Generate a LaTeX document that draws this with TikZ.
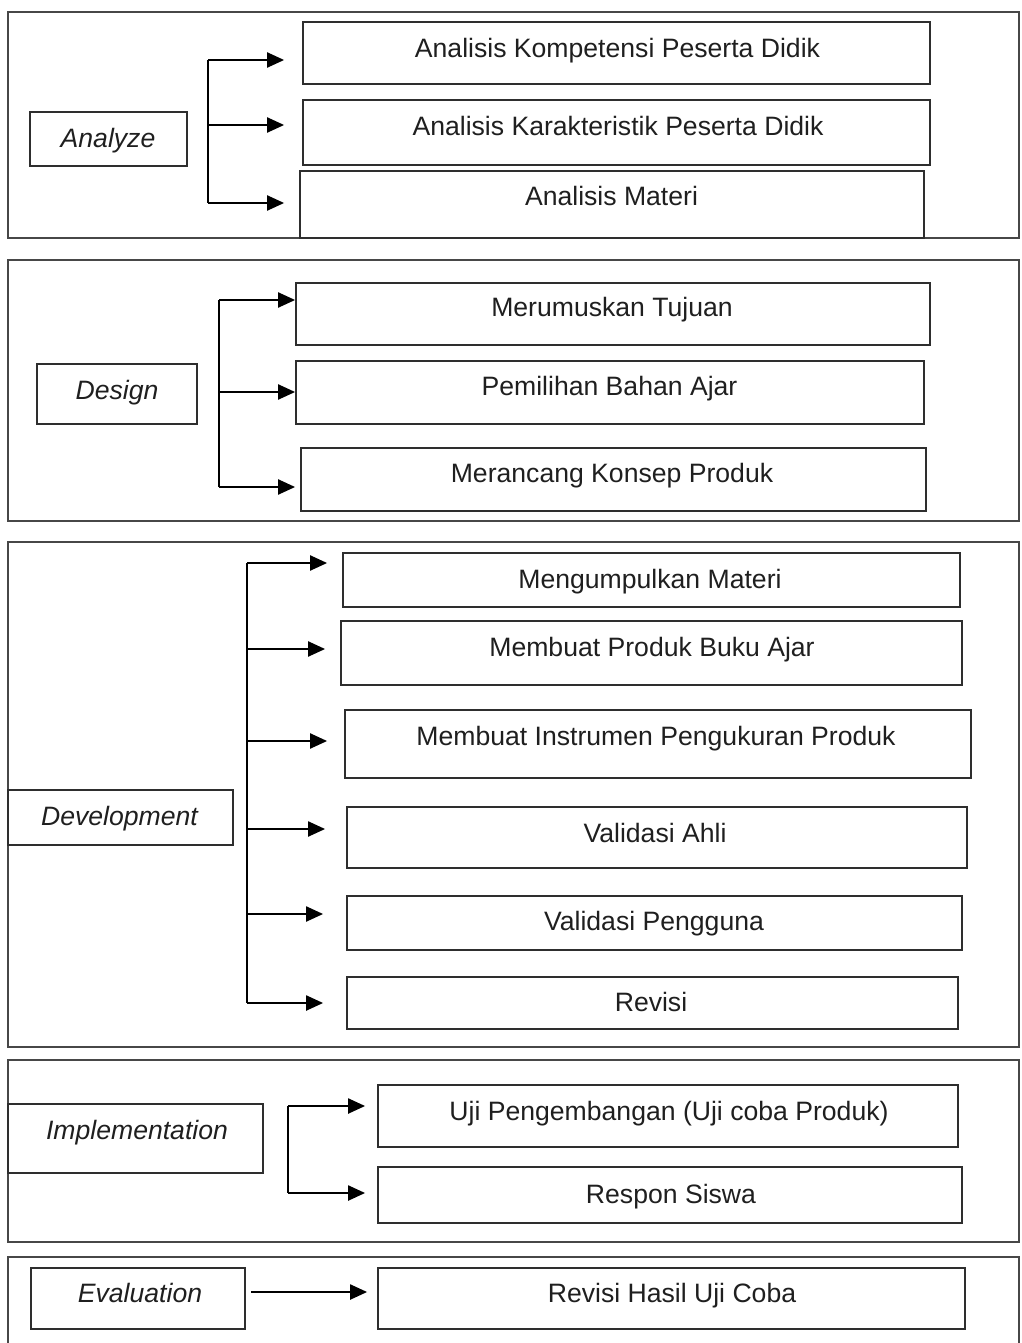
\documentclass[tikz,border=0pt]{standalone}
\usepackage{fontspec}
\setmainfont{Liberation Sans}
\usetikzlibrary{arrows.meta}
\tikzset{
  panel/.style={draw=black!72, line width=1.8pt},
  box/.style={draw=black!82, line width=1.8pt, rectangle, inner sep=0pt},
  txt/.style={inner sep=0pt, text height=19pt, text depth=0pt, text=black!88,
              font=\fontsize{26.6}{31}\selectfont},
  lbl/.style={txt, font=\fontsize{26.6}{31}\selectfont\itshape},
  trunk/.style={draw=black, line width=2.2pt},
  arr/.style={draw=black, line width=2.2pt, -{Triangle[length=17pt,width=15pt]}},
}
\begin{document}
\begin{tikzpicture}[x=1pt,y=-1pt]
\useasboundingbox (0,0) rectangle (1021,1343);
% panels
\draw[panel] (8,12) rectangle (1019,238);
\draw[panel] (8,260) rectangle (1019,521);
\draw[panel] (8,542) rectangle (1019,1047);
\draw[panel] (8,1060) rectangle (1019,1242);
\draw[panel] (8,1346) -- (8,1257) -- (1019,1257) -- (1019,1346);

% ---------- Analyze ----------
\node[box, minimum width=157pt, minimum height=54pt] (an) at (108.5,139) {};
\node[lbl] at (108,138) {Analyze};
\node[box, minimum width=627pt, minimum height=62pt] (a1) at (616.5,53) {};
\node[txt] at (617.5,48) {Analisis Kompetensi Peserta Didik};
\node[box, minimum width=627pt, minimum height=65pt] (a2) at (616.5,132.5) {};
\node[txt] at (618,126) {Analisis Karakteristik Peserta Didik};
\node[box, minimum width=624pt, minimum height=67pt] (a3) at (612,204.5) {};
\node[txt] at (611.5,196) {Analisis Materi};
\coordinate (ta1) at (208,60);
\coordinate (ta2) at (208,125);
\coordinate (ta3) at (208,203);
\draw[trunk] (ta1) -- (ta3);
\draw[arr, shorten >=18pt] (ta1) -- (ta1 -| a1.west);
\draw[arr, shorten >=18pt] (ta2) -- (ta2 -| a2.west);
\draw[arr, shorten >=15pt] (ta3) -- (ta3 -| a3.west);

% ---------- Design ----------
\node[box, minimum width=160pt, minimum height=60pt] (de) at (117,394) {};
\node[lbl] at (117,390) {Design};
\node[box, minimum width=634pt, minimum height=62pt] (d1) at (613,314) {};
\node[txt] at (612,307) {Merumuskan Tujuan};
\node[box, minimum width=628pt, minimum height=63pt] (d2) at (610,392.5) {};
\node[txt] at (609.5,386) {Pemilihan Bahan Ajar};
\node[box, minimum width=625pt, minimum height=63pt] (d3) at (613.5,479.5) {};
\node[txt] at (612,473) {Merancang Konsep Produk};
\coordinate (td1) at (219,300);
\coordinate (td2) at (219,392);
\coordinate (td3) at (219,487);
\draw[trunk] (td1) -- (td3);
\draw[arr, shorten >=0pt] (td1) -- (td1 -| d1.west);
\draw[arr, shorten >=0pt] (td2) -- (td2 -| d2.west);
\draw[arr, shorten >=5pt] (td3) -- (td3 -| d3.west);

% ---------- Development ----------
\node[box, minimum width=225pt, minimum height=55pt] (dv) at (120.5,817.5) {};
\node[lbl] at (119.5,816) {Development};
\node[box, minimum width=617pt, minimum height=54pt] (v1) at (651.5,580) {};
\node[txt] at (650,579) {Mengumpulkan Materi};
\node[box, minimum width=621pt, minimum height=64pt] (v2) at (651.5,653) {};
\node[txt] at (652,647) {Membuat Produk Buku Ajar};
\node[box, minimum width=626pt, minimum height=68pt] (v3) at (658,744) {};
\node[txt] at (656,736) {Membuat Instrumen Pengukuran Produk};
\node[box, minimum width=620pt, minimum height=61pt] (v4) at (657,837.5) {};
\node[txt] at (655,833) {Validasi Ahli};
\node[box, minimum width=615pt, minimum height=54pt] (v5) at (654.5,923) {};
\node[txt] at (654,921) {Validasi Pengguna};
\node[box, minimum width=611pt, minimum height=52pt] (v6) at (652.5,1003) {};
\node[txt] at (651,1002) {Revisi};
\coordinate (tv1) at (247,563);
\coordinate (tv2) at (247,649);
\coordinate (tv3) at (247,741);
\coordinate (tv4) at (247,829);
\coordinate (tv5) at (247,914);
\coordinate (tv6) at (247,1003);
\draw[trunk] (tv1) -- (tv6);
\draw[arr, shorten >=15pt] (tv1) -- (tv1 -| v1.west);
\draw[arr, shorten >=15pt] (tv2) -- (tv2 -| v2.west);
\draw[arr, shorten >=17pt] (tv3) -- (tv3 -| v3.west);
\draw[arr, shorten >=21pt] (tv4) -- (tv4 -| v4.west);
\draw[arr, shorten >=23pt] (tv5) -- (tv5 -| v5.west);
\draw[arr, shorten >=23pt] (tv6) -- (tv6 -| v6.west);

% ---------- Implementation ----------
\node[box, minimum width=255pt, minimum height=69pt] (im) at (135.5,1138.5) {};
\node[lbl] at (137,1130) {Implementation};
\node[box, minimum width=580pt, minimum height=62pt] (i1) at (668,1116) {};
\node[txt] at (669,1111) {Uji Pengembangan (Uji coba Produk)};
\node[box, minimum width=584pt, minimum height=56pt] (i2) at (670,1195) {};
\node[txt] at (671,1194) {Respon Siswa};
\coordinate (ti1) at (288,1106);
\coordinate (ti2) at (288,1193);
\draw[trunk] (ti1) -- (ti2);
\draw[arr, shorten >=12pt] (ti1) -- (ti1 -| i1.west);
\draw[arr, shorten >=12pt] (ti2) -- (ti2 -| i2.west);

% ---------- Evaluation ----------
\node[box, minimum width=214pt, minimum height=61pt] (ev) at (138,1298.5) {};
\node[lbl] at (140,1293) {Evaluation};
\node[box, minimum width=587pt, minimum height=61pt] (e1) at (671.5,1298.5) {};
\node[txt] at (672,1293) {Revisi Hasil Uji Coba};
\coordinate (te) at (251,1292);
\draw[arr, shorten >=10pt] (te) -- (te -| e1.west);
\end{tikzpicture}
\end{document}
